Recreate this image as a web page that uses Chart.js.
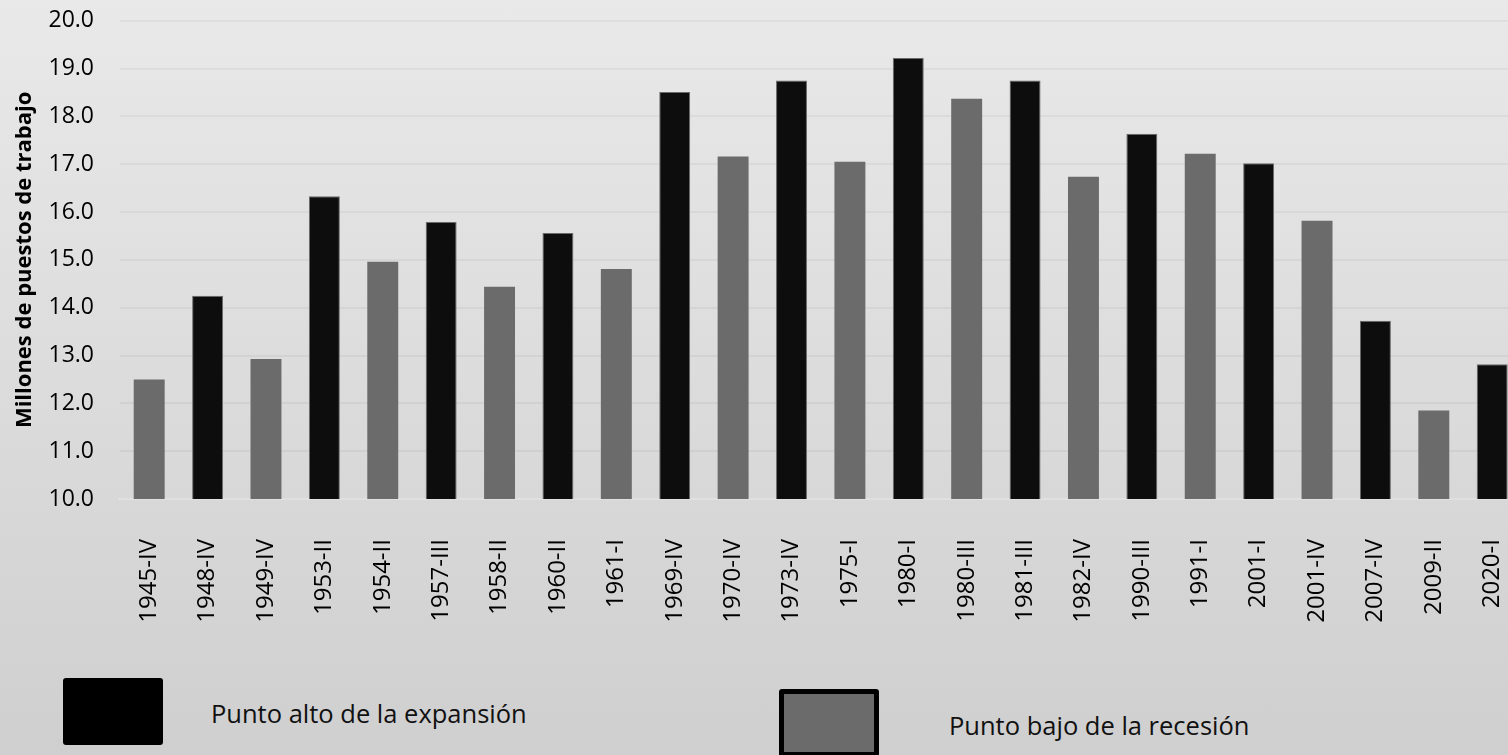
<!DOCTYPE html>
<html>
<head>
<meta charset="utf-8">
<script src="https://cdn.jsdelivr.net/npm/chart.js@4/dist/chart.umd.min.js"></script>
<style>
  html, body { margin: 0; padding: 0; }
  body {
    width: 1508px; height: 755px; overflow: hidden; position: relative;
    background: linear-gradient(#e9e9e9, #cfcfcf);
    font-family: "Open Sans", sans-serif;
  }
  #chart { position: absolute; left: 0; top: -19px; }
  .key { position: absolute; box-sizing: border-box; border-radius: 3px; }
  .label { position: absolute; font-size: 25.5px; color: #111; white-space: nowrap; }
</style>
</head>
<body>
<canvas id="chart" width="1561" height="659"></canvas>

<div class="key" style="left:63px; top:678px; width:100px; height:67px; background:#000;"></div>
<div class="label" style="left:211px; top:696px;">Punto alto de la expansión</div>
<div class="key" style="left:779px; top:689px; width:100px; height:68px; background:#6b6b6b; border:5px solid #000;"></div>
<div class="label" style="left:949px; top:708px;">Punto bajo de la recesión</div>

<script>
// business-cycle turning points, employment in millions
const periods = ['1945-IV', '1948-IV', '1949-IV', '1953-II', '1954-II', '1957-III', '1958-II', '1960-II',
  '1961-I', '1969-IV', '1970-IV', '1973-IV', '1975-I', '1980-I', '1980-III', '1981-III', '1982-IV',
  '1990-III', '1991-I', '2001-I', '2001-IV', '2007-IV', '2009-II', '2020-I'];
const jobs = [12.5, 14.25, 12.93, 16.33, 14.96, 15.79, 14.44, 15.56,
  14.81, 18.51, 17.16, 18.75, 17.05, 19.22, 18.37, 18.75, 16.74,
  17.64, 17.22, 17.02, 15.82, 13.73, 11.85, 12.82];
// P = peak of expansion, T = trough of recession
const phase = ['T', 'P', 'T', 'P', 'T', 'P', 'T', 'P',
  'T', 'P', 'T', 'P', 'T', 'P', 'T', 'P', 'T',
  'P', 'T', 'P', 'T', 'P', 'T', 'P'];

const peakColor = '#0d0d0d';
const troughColor = '#6b6b6b';

const family = '"Open Sans", sans-serif';

new Chart(document.getElementById('chart'), {
  type: 'bar',
  data: {
    labels: periods,
    datasets: [{
      data: jobs,
      backgroundColor: phase.map(p => p === 'P' ? peakColor : troughColor),
      borderColor: phase.map(p => p === 'P' ? '#6a6a6a' : troughColor),
      borderWidth: phase.map(p => p === 'P' ? 1 : 0),
      borderSkipped: 'bottom',
      barPercentage: 0.53,
      categoryPercentage: 1,
    }]
  },
  options: {
    responsive: false,
    animation: false,
    layout: { padding: { top: 2, right: 0, left: 0, bottom: 0 } },
    plugins: { legend: { display: false }, tooltip: { enabled: false } },
    scales: {
      x: {
        grid: { display: false, drawTicks: false },
        border: { display: true, color: 'rgba(255,255,255,0.35)', width: 2 },
        ticks: { color: '#000', font: { family, size: 24 }, minRotation: 90, maxRotation: 90, autoSkip: false, padding: 40 },
        afterFit: s => { s.height = 141; },
      },
      y: {
        min: 10,
        max: 20,
        grid: { color: 'rgba(0,0,0,0.045)', lineWidth: 2, drawTicks: false },
        border: { display: false },
        ticks: { stepSize: 1, color: '#000', font: { family, size: 23 }, padding: 26, callback: v => v.toFixed(1) },
        title: {
          display: true,
          text: 'Millones de puestos de trabajo',
          color: '#000',
          font: { family, size: 22, weight: 'bold' },
          padding: { top: 12, bottom: 0 },
        },
        afterFit: s => { s.width = 120; },
      }
    }
  }
});
</script>
</body>
</html>
